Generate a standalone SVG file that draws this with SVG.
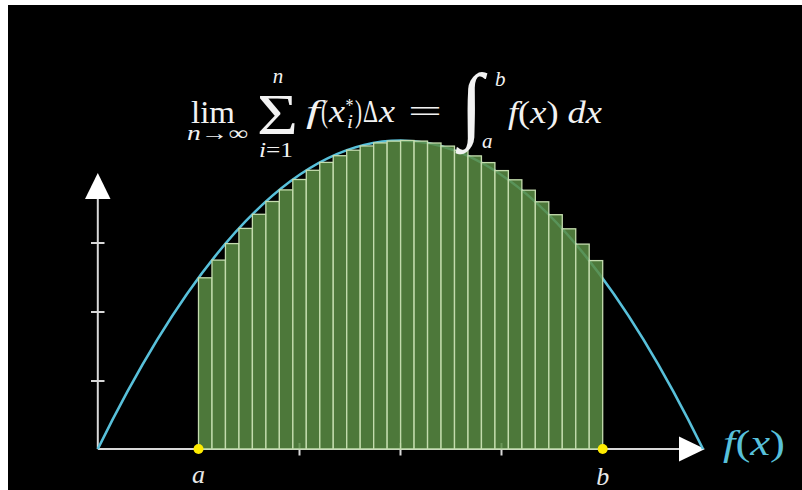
<svg xmlns="http://www.w3.org/2000/svg" width="802" height="490" viewBox="0 0 802 490">
<style>
.ax{stroke:#d8d8d8;stroke-width:2;fill:none}
.ah{fill:#ffffff}
.bar{fill:#5a8c44;fill-opacity:0.86;stroke:#c4dcae;stroke-width:1.3}
.m text{font-family:"Liberation Serif","DejaVu Serif",serif;fill:#f2f2f2}
.i{font-style:italic}
.lbl{font-family:"Liberation Serif","DejaVu Serif",serif;font-style:italic;fill:#e8e8e8;font-size:26px;text-anchor:middle}
</style>
<rect x="0" y="0" width="802" height="490" fill="#ffffff"/>
<rect x="8" y="5" width="794" height="485" fill="#000000"/>
<g id="axes">
<line class="ax" x1="97.8" y1="449" x2="97.8" y2="198"/>
<polygon class="ah" points="85,199 110.5,199 97.8,173"/>
<line class="ax" x1="97.8" y1="449" x2="680" y2="449"/>
<polygon class="ah" points="679,436.5 679,461.5 705,449"/>
<line class="ax" x1="91" y1="243" x2="104.5" y2="243"/>
<line class="ax" x1="91" y1="312" x2="104.5" y2="312"/>
<line class="ax" x1="91" y1="381" x2="104.5" y2="381"/>
<line class="ax" x1="299.5" y1="443" x2="299.5" y2="455.5"/>
<line class="ax" x1="400.5" y1="443" x2="400.5" y2="455.5"/>
<line class="ax" x1="501.5" y1="443" x2="501.5" y2="455.5"/>
</g>
<g id="curve">
<path d="M97.8 449 Q400.4 -168 703 449" fill="none" stroke="#58c0da" stroke-width="2.6"/>
</g>
<g id="bars">
<rect class="bar" x="198.5" y="277.8" width="13.47" height="171.2"/>
<rect class="bar" x="211.97" y="260.1" width="13.47" height="188.9"/>
<rect class="bar" x="225.45" y="243.6" width="13.47" height="205.4"/>
<rect class="bar" x="238.92" y="228.4" width="13.47" height="220.6"/>
<rect class="bar" x="252.39" y="214.3" width="13.47" height="234.7"/>
<rect class="bar" x="265.87" y="201.5" width="13.47" height="247.5"/>
<rect class="bar" x="279.34" y="189.9" width="13.47" height="259.1"/>
<rect class="bar" x="292.81" y="179.5" width="13.47" height="269.5"/>
<rect class="bar" x="306.28" y="170.3" width="13.47" height="278.7"/>
<rect class="bar" x="319.76" y="162.4" width="13.47" height="286.6"/>
<rect class="bar" x="333.23" y="155.7" width="13.47" height="293.3"/>
<rect class="bar" x="346.70" y="150.2" width="13.47" height="298.8"/>
<rect class="bar" x="360.18" y="145.95" width="13.47" height="303.05"/>
<rect class="bar" x="373.65" y="142.9" width="13.47" height="306.1"/>
<rect class="bar" x="387.12" y="141.1" width="13.47" height="307.9"/>
<rect class="bar" x="400.60" y="140.5" width="13.47" height="308.5"/>
<rect class="bar" x="414.07" y="141.1" width="13.47" height="307.9"/>
<rect class="bar" x="427.54" y="143.0" width="13.47" height="306.0"/>
<rect class="bar" x="441.01" y="146.1" width="13.47" height="302.9"/>
<rect class="bar" x="454.49" y="150.4" width="13.47" height="298.6"/>
<rect class="bar" x="467.96" y="155.9" width="13.47" height="293.1"/>
<rect class="bar" x="481.43" y="162.6" width="13.47" height="286.4"/>
<rect class="bar" x="494.91" y="170.6" width="13.47" height="278.4"/>
<rect class="bar" x="508.38" y="179.8" width="13.47" height="269.2"/>
<rect class="bar" x="521.85" y="190.2" width="13.47" height="258.8"/>
<rect class="bar" x="535.32" y="201.8" width="13.47" height="247.2"/>
<rect class="bar" x="548.80" y="214.7" width="13.47" height="234.3"/>
<rect class="bar" x="562.27" y="228.8" width="13.47" height="220.2"/>
<rect class="bar" x="575.74" y="244.1" width="13.47" height="204.9"/>
<rect class="bar" x="589.22" y="260.6" width="13.47" height="188.4"/>
</g>
<g id="point-a">
<circle cx="198.5" cy="449" r="5" fill="#ffec00"/>
<text class="lbl" x="198.5" y="483">a</text>
</g>
<g id="point-b">
<circle cx="602.7" cy="449" r="5" fill="#ffec00"/>
<text class="lbl" x="602.7" y="485">b</text>
</g>
<g id="fx-label">
<text x="723" y="455" font-family="Liberation Serif, DejaVu Serif, serif" font-size="36" fill="#58c0da" textLength="62" lengthAdjust="spacingAndGlyphs"><tspan font-style="italic">f</tspan>(<tspan font-style="italic">x</tspan>)</text>
</g>
<g id="formula" class="m">
<text x="191" y="123" font-size="31" textLength="44" lengthAdjust="spacingAndGlyphs">lim</text>
<text x="187" y="140" font-size="20" textLength="61" lengthAdjust="spacingAndGlyphs"><tspan class="i">n</tspan>→∞</text>
<text x="257" y="134" font-size="58" textLength="41" lengthAdjust="spacingAndGlyphs">Σ</text>
<text x="278" y="83" font-size="21" class="i" text-anchor="middle">n</text>
<text x="259" y="157" font-size="20" textLength="34" lengthAdjust="spacingAndGlyphs"><tspan class="i">i</tspan>=1</text>
<text x="306" y="122" font-size="31" class="i" textLength="14" lengthAdjust="spacingAndGlyphs">f</text>
<text x="321" y="122" font-size="31" textLength="7" lengthAdjust="spacingAndGlyphs">(</text>
<text x="329" y="122" font-size="31" class="i" textLength="16" lengthAdjust="spacingAndGlyphs">x</text>
<text x="345.5" y="112" font-size="18" textLength="8" lengthAdjust="spacingAndGlyphs">*</text>
<text x="347" y="128" font-size="18" class="i" textLength="6" lengthAdjust="spacingAndGlyphs">i</text>
<text x="355" y="122" font-size="31" textLength="7" lengthAdjust="spacingAndGlyphs">)</text>
<text x="363" y="122" font-size="31" textLength="15" lengthAdjust="spacingAndGlyphs">Δ</text>
<text x="379" y="122" font-size="31" class="i" textLength="16" lengthAdjust="spacingAndGlyphs">x</text>
<text x="408" y="122" font-size="31" textLength="34" lengthAdjust="spacingAndGlyphs">=</text>
<text x="460" y="132" font-size="84" class="i" textLength="23" lengthAdjust="spacingAndGlyphs">∫</text>
<text x="495" y="86" font-size="21" class="i">b</text>
<text x="482" y="148" font-size="21" class="i">a</text>
<text x="508" y="123" font-size="31" textLength="94" lengthAdjust="spacingAndGlyphs"><tspan class="i">f</tspan>(<tspan class="i">x</tspan>) <tspan class="i">dx</tspan></text>
</g>
</svg>
